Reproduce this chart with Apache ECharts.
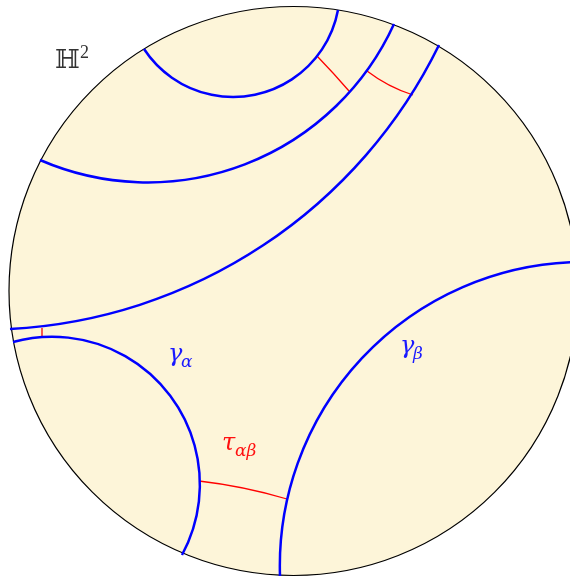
<!DOCTYPE html>
<html>
<head>
<meta charset="utf-8">
<script src="https://cdn.jsdelivr.net/npm/echarts@6/dist/echarts.min.js"></script>
<style>
  html, body { margin: 0; padding: 0; background: #fff; }
  #main { width: 570px; height: 577px; }
</style>
</head>
<body>
<div id="main"></div>
<script>
// disk: center and radius in picture units
const DISK = { cx: 293.5, cy: 291, r: 284.5 };

// blue curves: start, a point on the curve, end  [x, y]
const geoNames = ['g1', 'g2', 'g3', 'gammaAlpha', 'gammaBeta'];
const geoStart = [[144, 49], [40, 160], [10, 329], [13, 342], [280, 576]];
const geoMid = [[233, 97], [285, 145], [285, 230], [193, 440], [385, 336]];
const geoEnd = [[338, 10], [394, 24], [439, 45], [182, 555], [576, 262]];

// red segments between curves
const perpStart = [[317, 56], [367, 71], [42, 328], [199, 481]];
const perpMid = [[333, 73], [389, 85], [42, 332.5], [243, 488]];
const perpEnd = [[349, 91], [413, 95], [42, 337], [287, 499]];

// labels
const labelMain = ['\u210D', '\u03B3', '\u03B3', '\u03C4'];
const labelSub = ['2', '\u03B1', '\u03B2', '\u03B1\u03B2'];
const labelPos = [[55, 68], [168, 362], [400, 354], [222, 451]];

const geoData = geoStart.map((p, i) => p.concat(geoMid[i], geoEnd[i]));
const perpData = perpStart.map((p, i) => p.concat(perpMid[i], perpEnd[i]));

// circular arc through three points
function renderArc(color, width) {
  return function (params, api) {
    const A = api.coord([api.value(0), api.value(1)]);
    const M = api.coord([api.value(2), api.value(3)]);
    const B = api.coord([api.value(4), api.value(5)]);
    const style = { stroke: color, lineWidth: width, fill: null };
    const d = 2 * (A[0] * (M[1] - B[1]) + M[0] * (B[1] - A[1]) + B[0] * (A[1] - M[1]));
    if (Math.abs(d) < 1e-3) {
      return { type: 'line', shape: { x1: A[0], y1: A[1], x2: B[0], y2: B[1] }, style: style };
    }
    const a2 = A[0] * A[0] + A[1] * A[1];
    const m2 = M[0] * M[0] + M[1] * M[1];
    const b2 = B[0] * B[0] + B[1] * B[1];
    const cx = (a2 * (M[1] - B[1]) + m2 * (B[1] - A[1]) + b2 * (A[1] - M[1])) / d;
    const cy = (a2 * (B[0] - M[0]) + m2 * (A[0] - B[0]) + b2 * (M[0] - A[0])) / d;
    const r = Math.hypot(A[0] - cx, A[1] - cy);
    const TAU = 2 * Math.PI;
    const norm = x => ((x % TAU) + TAU) % TAU;
    const t1 = Math.atan2(A[1] - cy, A[0] - cx);
    const dm = norm(Math.atan2(M[1] - cy, M[0] - cx) - t1);
    const db = norm(Math.atan2(B[1] - cy, B[0] - cx) - t1);
    const cw = dm < db;
    return {
      type: 'arc',
      shape: { cx: cx, cy: cy, r: r, startAngle: t1, endAngle: cw ? t1 + db : t1 - (TAU - db), clockwise: cw },
      style: style
    };
  };
}

const myChart = echarts.init(document.getElementById('main'));

const option = {
  animation: false,
  grid: { left: 0, right: 0, top: 0, bottom: 0 },
  xAxis: { type: 'value', min: 0, max: 570, show: false },
  yAxis: { type: 'value', min: 0, max: 577, inverse: true, show: false },
  series: [
    {
      // the disk
      type: 'custom',
      data: [[DISK.cx, DISK.cy]],
      renderItem: function (params, api) {
        const C = api.coord([api.value(0), api.value(1)]);
        return {
          type: 'circle',
          shape: { cx: C[0], cy: C[1], r: api.size([DISK.r, 0])[0] },
          style: { fill: '#fdf5d9', stroke: '#000', lineWidth: 1.2 }
        };
      },
      z: 1
    },
    {
      name: 'geodesics',
      type: 'custom',
      data: geoData,
      renderItem: renderArc('#0000ff', 2.5),
      z: 3
    },
    {
      name: 'perpendiculars',
      type: 'custom',
      data: perpData,
      renderItem: renderArc('#ff0000', 1.3),
      z: 2
    },
    {
      name: 'labels',
      type: 'custom',
      data: labelPos,
      renderItem: function (params, api) {
        const i = params.dataIndex;
        const P = api.coord([api.value(0), api.value(1)]);
        const cols = ['#333', '#1a1aff', '#1a1aff', '#ff1010'];
        if (i === 0) {
          return {
            type: 'group',
            children: [
              { type: 'text', x: P[0], y: P[1] + 6, style: { text: labelMain[0], font: '26px "DejaVu Serif"', fill: cols[0], textVerticalAlign: 'bottom' } },
              { type: 'text', x: P[0] + 25, y: P[1] - 6, style: { text: labelSub[0], font: '18px "Liberation Serif"', fill: cols[0], textVerticalAlign: 'bottom' } }
            ]
          };
        }
        return {
          type: 'group',
          children: [
            { type: 'text', x: P[0], y: P[1] + 5, style: { text: labelMain[i], font: 'italic 24px "DejaVu Serif"', fill: cols[i], textVerticalAlign: 'bottom' } },
            { type: 'text', x: P[0] + 13, y: P[1] + 9, style: { text: labelSub[i], font: 'italic 17px "DejaVu Serif"', fill: cols[i], textVerticalAlign: 'bottom' } }
          ]
        };
      },
      z: 4
    }
  ]
};

myChart.setOption(option);
</script>
</body>
</html>
